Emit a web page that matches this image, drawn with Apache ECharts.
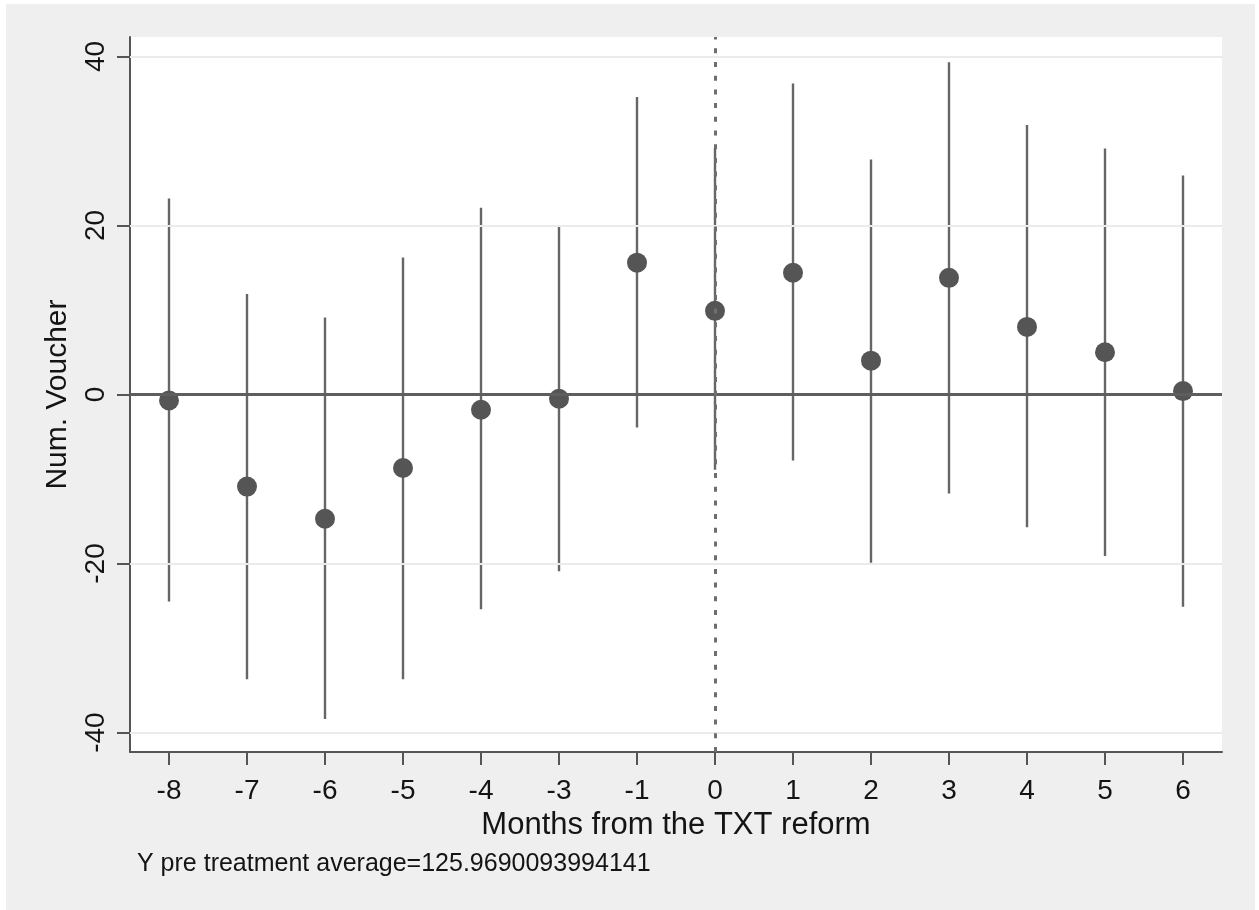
<!DOCTYPE html>
<html>
<head>
<meta charset="utf-8">
<title>Num. Voucher by months from the TXT reform</title>
<script src="https://cdn.jsdelivr.net/npm/echarts@6/dist/echarts.min.js"></script>
<style>
  html, body { margin: 0; padding: 0; background: #ffffff; }
  #chart { position: absolute; left: 6px; top: 4px; width: 1249px; height: 906px; }
</style>
</head>
<body>
<div id="chart"></div>
<script>
// Event-study coefficients with 95% confidence intervals
const months = ['-8', '-7', '-6', '-5', '-4', '-3', '-1', '0', '1', '2', '3', '4', '5', '6'];
const estimates = [-0.7, -10.9, -14.7, -8.7, -1.8, -0.5, 15.6, 9.9, 14.4, 4.0, 13.8, 8.0, 5.0, 0.4];
const ciLower = [-24.5, -33.7, -38.4, -33.7, -25.4, -20.9, -3.9, -8.9, -7.8, -19.9, -11.7, -15.7, -19.1, -25.1];
const ciUpper = [23.2, 11.9, 9.1, 16.2, 22.1, 19.9, 35.2, 29.2, 36.8, 27.8, 39.3, 31.9, 29.1, 25.9];
const yTicks = [-40, -20, 0, 20, 40];
const reformMonth = '0';
const noteText = 'Y pre treatment average=125.9690093994141';

const chart = echarts.init(document.getElementById('chart'), null, { renderer: 'canvas' });

const FONT = '"Liberation Sans", Arial, sans-serif';
const AXIS_COLOR = '#555555';
const TEXT_COLOR = '#141414';

const option = {
  backgroundColor: '#efefef',
  animation: false,
  grid: {
    left: 124, right: 33, top: 33, bottom: 158,
    show: true, backgroundColor: '#ffffff', borderWidth: 0
  },
  xAxis: {
    type: 'category',
    data: months,
    boundaryGap: true,
    name: 'Months from the TXT reform',
    nameLocation: 'middle',
    nameGap: 53,
    nameTextStyle: { fontFamily: FONT, fontSize: 31, color: TEXT_COLOR },
    axisLine: { show: true, onZero: false, lineStyle: { color: AXIS_COLOR, width: 2 } },
    axisTick: { show: true, alignWithLabel: true, length: 13, lineStyle: { color: AXIS_COLOR, width: 2 } },
    axisLabel: { fontFamily: FONT, fontSize: 28, color: TEXT_COLOR, margin: 25, interval: 0 },
    splitLine: { show: false }
  },
  yAxis: {
    type: 'value',
    min: -42.3,
    max: 42.3,
    name: 'Num. Voucher',
    nameLocation: 'middle',
    nameGap: 57,
    nameRotate: 90,
    nameTextStyle: { fontFamily: FONT, fontSize: 30, color: TEXT_COLOR },
    axisLine: { show: true, onZero: false, lineStyle: { color: AXIS_COLOR, width: 2 } },
    axisTick: { show: true, length: 13, customValues: yTicks, lineStyle: { color: AXIS_COLOR, width: 2 } },
    axisLabel: { fontFamily: FONT, fontSize: 28, color: TEXT_COLOR, rotate: 90, margin: 20, customValues: yTicks },
    splitLine: { show: false }
  },
  graphic: [{
    type: 'text',
    left: 131,
    top: 848,
    style: { text: noteText, fontFamily: FONT, fontSize: 25, fill: TEXT_COLOR }
  }],
  series: [
    {
      // horizontal grid lines at the labelled ticks (except zero)
      type: 'line',
      data: [],
      z: 1,
      silent: true,
      markLine: {
        silent: true,
        symbol: 'none',
        label: { show: false },
        lineStyle: { color: '#ebebeb', width: 2, type: 'solid' },
        data: yTicks.filter(v => v !== 0).map(v => ({ yAxis: v }))
      }
    },
    {
      // confidence interval spikes
      type: 'custom',
      z: 2,
      silent: true,
      data: months.map((m, i) => [i, ciLower[i], ciUpper[i]]),
      renderItem: function (params, api) {
        const lo = api.coord([api.value(0), api.value(1)]);
        const hi = api.coord([api.value(0), api.value(2)]);
        return {
          type: 'line',
          shape: { x1: lo[0], y1: lo[1], x2: hi[0], y2: hi[1] },
          style: { stroke: '#666666', lineWidth: 2.4 }
        };
      }
    },
    {
      // zero line and reform-date reference line
      type: 'line',
      data: [],
      z: 3,
      silent: true,
      markLine: {
        silent: true,
        symbol: 'none',
        label: { show: false },
        data: [
          { yAxis: 0, lineStyle: { color: '#5e5e5e', width: 3, type: 'solid' } },
          { xAxis: reformMonth, lineStyle: { color: '#6e6e6e', width: 3, type: [5, 8.7] } }
        ]
      }
    },
    {
      type: 'scatter',
      z: 4,
      data: months.map((m, i) => [i, estimates[i]]),
      symbol: 'circle',
      symbolSize: 20,
      itemStyle: { color: '#555555', opacity: 1 }
    }
  ]
};

chart.setOption(option);
</script>
</body>
</html>
